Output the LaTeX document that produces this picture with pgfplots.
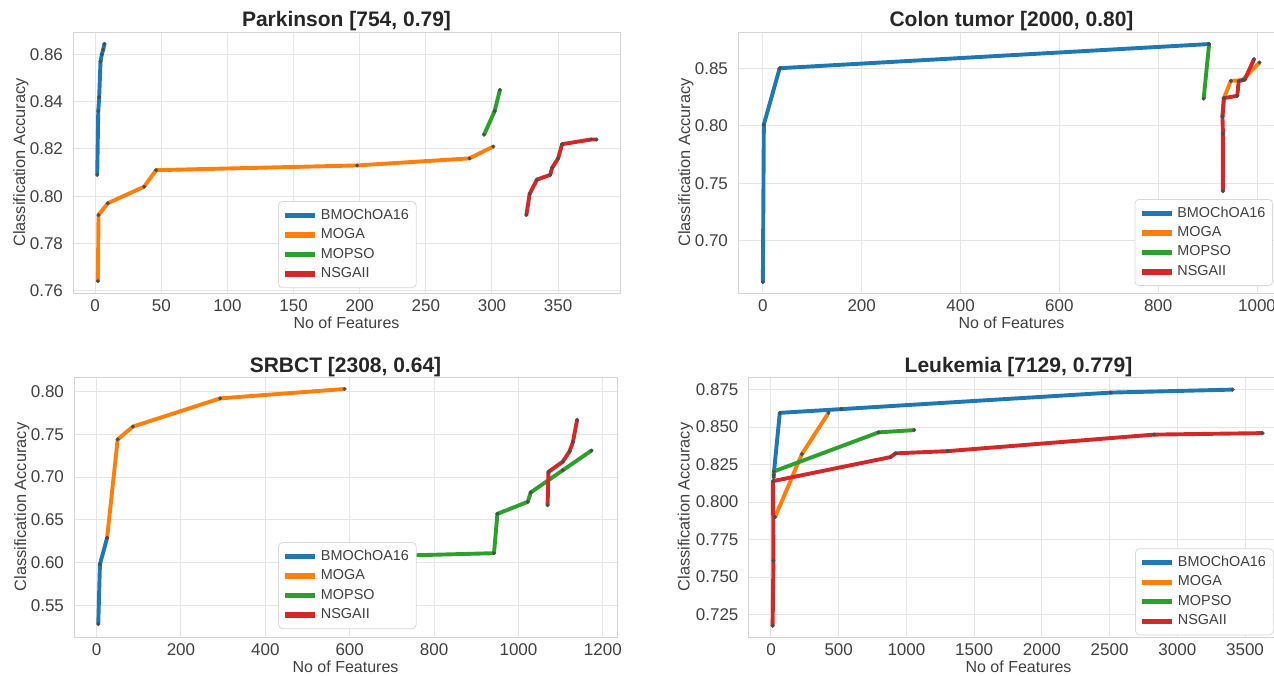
\documentclass[border=0pt]{standalone}
\usepackage{fontspec}
\setmainfont{Liberation Sans}
\usepackage{pgfplots}
\pgfplotsset{compat=1.18}

\definecolor{cblue}{HTML}{1F77B4}
\definecolor{corange}{HTML}{FF7F0E}
\definecolor{cgreen}{HTML}{2CA02C}
\definecolor{cred}{HTML}{D62728}

\pgfplotsset{
  panel/.style={
    scale only axis,
    axis line style={draw=black!17},
    grid=major,
    major grid style={draw=black!10, line width=0.5pt},
    major tick length=0pt,
    tick label style={font=\fontsize{8.5}{10}\selectfont, text=black!75},
    yticklabel style={xshift=-1.5pt},
    /pgf/number format/assume math mode=true,
    /pgf/number format/1000 sep={},
    xlabel={No of Features},
    ylabel={Classification Accuracy},
    every axis x label/.style={at={([yshift=-15pt]axis description cs:0.5,0)}, anchor=center,
      font=\fontsize{8}{9}\selectfont, text=black!75},
    every axis y label/.style={at={([xshift=-26pt]axis description cs:0,0.5)}, rotate=90, anchor=center,
      font=\fontsize{8.2}{9}\selectfont, text=black!75},
    every axis title/.style={at={(axis description cs:0.5,1)}, anchor=base, yshift=2.5pt,
      font=\bfseries\fontsize{10.5}{12}\selectfont, text=black!85},
    every axis plot/.append style={line width=1.95pt, line join=round, mark=*, mark size=0.9pt,
      mark options={draw=black!70, fill=black!70, line width=0.2pt}},
    legend image code/.code={\draw[#1, line width=2.6pt] (0pt,0pt) -- (15pt,0pt);},
    legend cell align=left,
    legend style={anchor=north west, font=\fontsize{7.2}{8.6}\selectfont, text=black!75,
      draw=black!15, rounded corners=2pt, fill=white, inner xsep=2pt, inner ysep=2pt,
      row sep=0pt, nodes={inner sep=1.6pt}},
  }
}

\begin{document}
\begin{tikzpicture}
\useasboundingbox (0,0) rectangle (637pt,337.5pt);

% Parkinson
\begin{axis}[panel, at={(36.5pt,191pt)}, anchor=south west, width=273.5pt, height=130.5pt,
  title={Parkinson [754, 0.79]},
  xmin=-16.8, xmax=396.8, ymin=0.759, ymax=0.8695,
  xtick={0,50,...,350}, ytick={0.76,0.78,0.80,0.82,0.84,0.86},
  yticklabel style={/pgf/number format/.cd, fixed, fixed zerofill, precision=2},
  legend style={at={(0.375,0.352)}}]
\addplot[cblue] coordinates {(1.5,0.809) (2.3,0.836) (3,0.842) (4,0.857) (5,0.860) (6,0.862) (7,0.8645)};
\addplot[corange] coordinates {(2,0.764) (2.5,0.792) (9.5,0.797) (37,0.804) (46,0.811) (198,0.813) (283,0.816) (301,0.821)};
\addplot[cgreen] coordinates {(294,0.826) (302,0.836) (306,0.845)};
\addplot[cred] coordinates {(326,0.792) (328.5,0.801) (334,0.807) (344,0.809) (345.5,0.812) (350,0.816) (353,0.822) (375,0.824) (379,0.824)};
\legend{BMOChOA16, MOGA, MOPSO, NSGAII}
\end{axis}

% Colon tumor
\begin{axis}[panel, at={(369pt,191pt)}, anchor=south west, width=273.5pt, height=130.5pt,
  title={Colon tumor [2000, 0.80]},
  xmin=-50.3, xmax=1056.6, ymin=0.6545, ymax=0.8815,
  xtick={0,200,...,1000}, ytick={0.70,0.75,0.80,0.85},
  yticklabel style={/pgf/number format/.cd, fixed, fixed zerofill, precision=2},
  legend style={at={(0.725,0.36)}}]
\addplot[cblue] coordinates {(0,0.664) (2,0.801) (34,0.850) (903,0.871)};
\addplot[corange] coordinates {(930,0.808) (933,0.824) (947,0.839) (970,0.8395) (1005,0.855)};
\addplot[cgreen] coordinates {(892,0.8235) (903,0.871)};
\addplot[cred] coordinates {(931,0.743) (931,0.793) (930,0.808) (933,0.824) (960,0.826) (963,0.839) (975,0.840) (994,0.858)};
\legend{BMOChOA16, MOGA, MOPSO, NSGAII}
\end{axis}

% SRBCT
\begin{axis}[panel, at={(37pt,19pt)}, anchor=south west, width=271.5pt, height=130pt,
  title={SRBCT [2308, 0.64]},
  xmin=-53.5, xmax=1233.5, ymin=0.513, ymax=0.817,
  xtick={0,200,...,1200}, ytick={0.55,0.60,0.65,0.70,0.75,0.80},
  yticklabel style={/pgf/number format/.cd, fixed, fixed zerofill, precision=2},
  legend style={at={(0.376,0.365)}}]
\addplot[cblue] coordinates {(4,0.528) (8,0.598) (25,0.629)};
\addplot[corange] coordinates {(25,0.629) (50,0.744) (86,0.759) (293,0.792) (588,0.803)};
\addplot[cgreen] coordinates {(700,0.607) (750,0.6085) (942,0.611) (950,0.657) (1022,0.671) (1029,0.682) (1105,0.708) (1173,0.731)};
\addplot[cred] coordinates {(1069,0.667) (1071,0.706) (1105,0.718) (1121,0.730) (1129,0.741) (1139,0.767)};
\legend{BMOChOA16, MOGA, MOPSO, NSGAII}
\end{axis}

% Leukemia
\begin{axis}[panel, at={(374.25pt,19pt)}, anchor=south west, width=270pt, height=130pt,
  title={Leukemia [7129, 0.779]},
  xmin=-166, xmax=3821, ymin=0.7101, ymax=0.8834,
  xtick={0,500,...,3500}, ytick={0.725,0.750,0.775,0.800,0.825,0.850,0.875},
  yticklabel style={/pgf/number format/.cd, fixed, fixed zerofill, precision=3},
  ylabel style={at={([xshift=-31.5pt]axis description cs:0,0.5)}},
  legend style={at={(0.716,0.341)}}]
\addplot[cblue] coordinates {(20,0.818) (65,0.8595) (520,0.862) (2508,0.873) (3409,0.875)};
\addplot[corange] coordinates {(30,0.790) (228,0.832) (425,0.8595)};
\addplot[cgreen] coordinates {(20,0.8165) (22,0.8205) (795,0.8465) (1058,0.848)};
\addplot[cred] coordinates {(12,0.7175) (18,0.761) (15,0.814) (882,0.830) (920,0.8325) (1306,0.834) (2829,0.845) (3630,0.846)};
\legend{BMOChOA16, MOGA, MOPSO, NSGAII}
\end{axis}
\end{tikzpicture}
\end{document}
